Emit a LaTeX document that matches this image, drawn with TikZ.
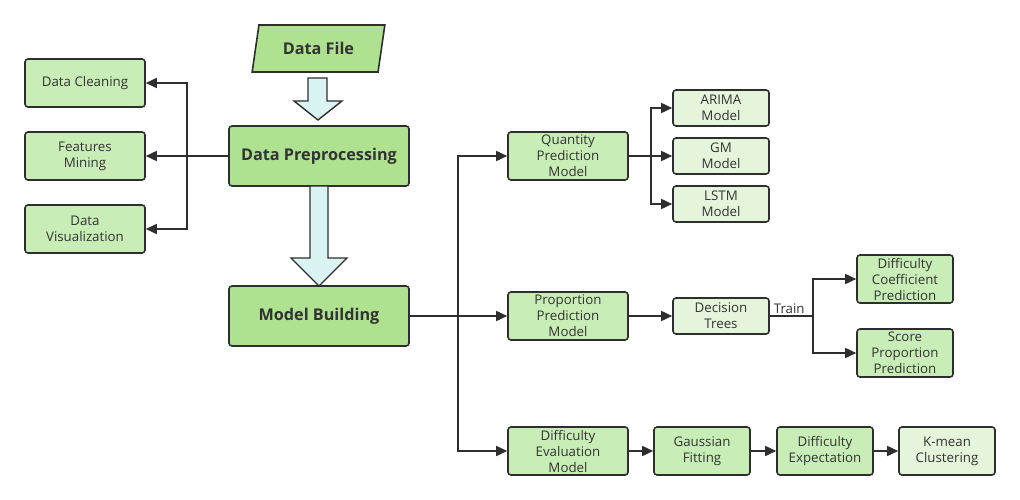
\documentclass[tikz,border=0pt]{standalone}
\usepackage{fontspec}
\setmainfont{Open Sans}
\usetikzlibrary{arrows.meta,shapes.geometric}
\definecolor{mainG}{HTML}{AEE290}
\definecolor{midG}{HTML}{C9EDB6}
\definecolor{liteG}{HTML}{E4F5DB}
\definecolor{bordC}{HTML}{2E2E2E}
\definecolor{txtC}{HTML}{333333}
\definecolor{arrC}{HTML}{DAF4F4}
\tikzset{
  box/.style={draw=bordC, line width=1.6pt, rounded corners=3pt, align=center, text=txtC,
    inner sep=0pt, font=\fontsize{13.3}{16}\selectfont},
  mainbox/.style={box, fill=mainG, minimum width=180pt, minimum height=60pt, font=\fontsize{16.2}{20}\selectfont\bfseries},
  sidebox/.style={box, fill=midG, minimum width=120pt, minimum height=48pt},
  smallbox/.style={box, fill=liteG, minimum width=96pt, minimum height=36pt},
  medbox/.style={box, fill=midG, minimum width=96pt, minimum height=48pt},
  conn/.style={draw=bordC, line width=1.6pt},
  arr/.style={conn, -{Triangle[length=11pt,width=10pt]}},
  bigarrow/.style={draw=bordC, line width=1.4pt, fill=arrC, line join=miter},
}
\begin{document}
\begin{tikzpicture}[x=1pt,y=-1pt]
\useasboundingbox (0,0) rectangle (1020,500);
% Data file
\node[trapezium, trapezium stretches=true, trapezium left angle=72, trapezium right angle=108,
  draw=bordC, line width=1.6pt, fill=mainG, minimum width=133pt, minimum height=47pt, inner sep=0pt,
  text=txtC, font=\fontsize{16.2}{20}\selectfont\bfseries] (file) at (318.5,48.5) {Data File};
\node[mainbox] (pre) at (319,156) {Data Preprocessing};
\node[mainbox] (mb) at (319,316) {Model Building};
% big arrows
\draw[bigarrow] (308,78) -- (327,78) -- (327,101) -- (342,101) -- (318,120) -- (294,101) -- (308,101) -- cycle;
\draw[bigarrow] (310,186) -- (328,186) -- (328,258) -- (347,258) -- (319,286) -- (291,258) -- (310,258) -- cycle;
% left boxes
\node[sidebox] (clean) at (85,83) {Data Cleaning};
\node[sidebox] (feat) at (85,156) {Features\\Mining};
\node[sidebox] (vis) at (85,229) {Data\\Visualization};
\coordinate (lb) at (187,156);
\draw[arr] (pre.west) -- (feat.east);
\draw[arr] (lb) |- (clean.east);
\draw[arr] (lb) |- (vis.east);
% model boxes
\node[sidebox] (qpm) at (568,156) {Quantity\\Prediction\\Model};
\node[sidebox] (ppm) at (568,316) {Proportion\\Prediction\\Model};
\node[sidebox] (dem) at (568,451) {Difficulty\\Evaluation\\Model};
\coordinate (mbr) at (458,316);
\draw[arr] (mb.east) -- (ppm.west);
\draw[arr] (mbr) |- (qpm.west);
\draw[arr] (mbr) |- (dem.west);
% quantity branch
\node[smallbox] (arima) at (721,108) {ARIMA\\Model};
\node[smallbox] (gm) at (721,156) {GM\\Model};
\node[smallbox] (lstm) at (721,204) {LSTM\\Model};
\coordinate (qb) at (651,156);
\draw[arr] (qpm.east) -- (gm.west);
\draw[arr] (qb) |- (arima.west);
\draw[arr] (qb) |- (lstm.west);
% proportion branch
\node[smallbox] (dt) at (721,316) {Decision\\Trees};
\draw[arr] (ppm.east) -- (dt.west);
\node[medbox] (dcp) at (905,279) {Difficulty\\Coefficient\\Prediction};
\node[medbox] (spp) at (905,353) {Score\\Proportion\\Prediction};
\coordinate (tb) at (813,316);
\draw[conn] (dt.east) -- node[above, text=txtC, font=\fontsize{13.3}{16}\selectfont, inner sep=2pt, pos=0.45] (trainlbl) {Train} (tb);
\draw[arr] (tb) |- (dcp.west);
\draw[arr] (tb) |- (spp.west);
% difficulty chain
\node[medbox] (gf) at (702,451) {Gaussian\\Fitting};
\node[medbox] (de) at (825,451) {Difficulty\\Expectation};
\node[medbox, fill=liteG] (km) at (947,451) {K-mean\\Clustering};
\draw[arr] (dem.east) -- (gf.west);
\draw[arr] (gf.east) -- (de.west);
\draw[arr] (de.east) -- (km.west);
\end{tikzpicture}
\end{document}
